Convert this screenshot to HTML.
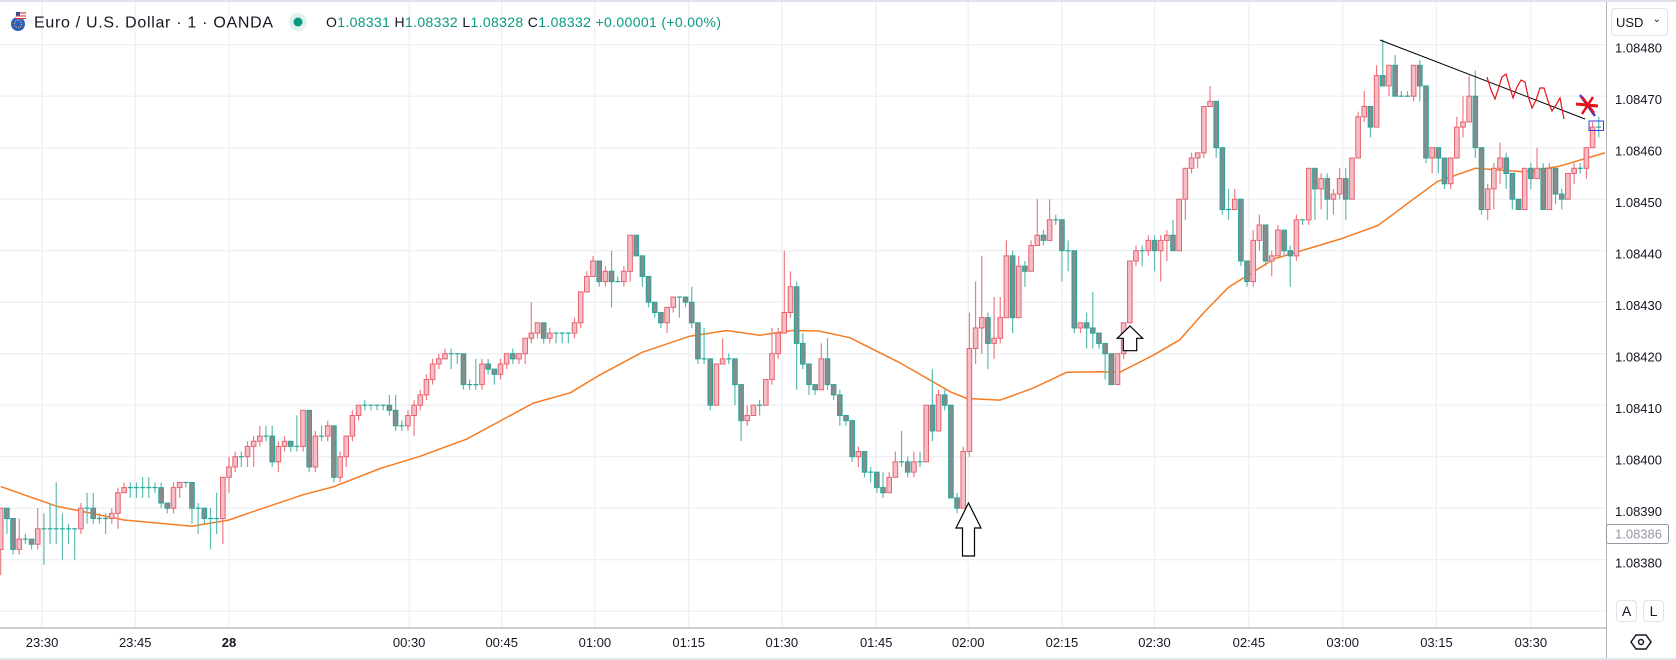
<!DOCTYPE html>
<html><head><meta charset="utf-8"><style>
html,body{margin:0;padding:0;background:#fff;}
body{width:1676px;height:660px;overflow:hidden;position:relative;font-family:"Liberation Sans",sans-serif;}
svg{position:absolute;left:0;top:0;}
.btn{position:absolute;border:1px solid #e0e3eb;border-radius:4px;background:#fff;color:#131722;font-size:14px;display:flex;align-items:center;justify-content:center;box-sizing:border-box;}
</style></head><body>
<svg id="chart" width="1676" height="660" xmlns="http://www.w3.org/2000/svg">
  <g id="grid"></g>
  <g id="ma"></g>
  <g id="candles"></g>
  <g id="drawings">
    <polygon points="968.5,503 981,528 974.5,528 974.5,556 962.5,556 962.5,528 956,528" fill="#fff" stroke="#000" stroke-width="1.2"/>
    <polygon points="1130,326 1142.7,338.3 1136.7,338.3 1136.7,350.7 1123.3,350.7 1123.3,338.3 1117.3,338.3" fill="#fff" stroke="#000" stroke-width="1.2"/>
    <line x1="1380" y1="40" x2="1585" y2="119" stroke="#000" stroke-width="1"/>
    <polyline fill="none" stroke="#e8101a" stroke-width="1.2" points="1487,77 1491,90 1495,99 1498,90 1502,77 1506,74 1510,88 1513,98 1517,87 1521,80 1525,82 1528,96 1532,108 1536,100 1540,88 1544,88 1548,101 1552,111 1556,105 1560,98 1564,119"/>
    <g>
      <line x1="1580" y1="95" x2="1595" y2="116" stroke="#4040d0" stroke-width="2.5"/>
      <line x1="1576" y1="104" x2="1598" y2="106" stroke="#e8101a" stroke-width="3"/>
      <line x1="1582" y1="97" x2="1594" y2="113" stroke="#e8101a" stroke-width="2.5"/>
      <line x1="1593" y1="97" x2="1582" y2="114" stroke="#e8101a" stroke-width="2.5"/>
    </g>
    <rect x="1589" y="121" width="14.5" height="9.5" fill="none" stroke="#3b3bdb" stroke-width="1"/>
  </g>
  <g id="axes">
    <line x1="1606.5" y1="0" x2="1606.5" y2="660" stroke="#b2b5be" stroke-width="1"/>
    <line x1="0" y1="628" x2="1606" y2="628" stroke="#b2b5be" stroke-width="1.2"/>
    <line x1="0" y1="1" x2="1676" y2="1" stroke="#e0e3eb" stroke-width="2"/>
    <line x1="0" y1="659" x2="1676" y2="659" stroke="#e0e3eb" stroke-width="2"/>
  </g>
  <g id="ylabels"></g>
  <g id="xlabels"></g>
  <g>
    <rect x="1606.5" y="524.5" width="62" height="19" fill="#fff" stroke="#9598a1" stroke-width="1" rx="2"/>
    <text x="1615" y="538.5" font-size="13" fill="#9598a1" font-family="Liberation Sans, sans-serif">1.08386</text>
  </g>
  <g>
    <g>
      <circle cx="18" cy="24" r="7" fill="#2d5fb8"/>
      <circle cx="18" cy="24" r="3.5" fill="none" stroke="#f2c94c" stroke-width="1" stroke-dasharray="1 1.2"/>
      <rect x="16" y="12" width="10" height="7" fill="#fff" stroke="#ccc" stroke-width="0.5"/>
      <rect x="16" y="12" width="4" height="3.5" fill="#2d4fa0"/>
      <line x1="20" y1="13" x2="26" y2="13" stroke="#e03131" stroke-width="1"/>
      <line x1="16" y1="16" x2="26" y2="16" stroke="#e03131" stroke-width="1"/>
      <line x1="16" y1="18.5" x2="26" y2="18.5" stroke="#e03131" stroke-width="1"/>
    </g>
    <text x="34" y="27.5" font-size="16" letter-spacing="0.7" fill="#131722" font-family="Liberation Sans, sans-serif">Euro / U.S. Dollar · 1 · OANDA</text>
    <circle cx="298" cy="22" r="9" fill="#dff3ee"/>
    <circle cx="298" cy="22" r="4.5" fill="#089981"/>
    <text x="326" y="27" font-size="14" letter-spacing="0.35" font-family="Liberation Sans, sans-serif" fill="#089981"><tspan fill="#131722">O</tspan>1.08331 <tspan fill="#131722">H</tspan>1.08332 <tspan fill="#131722">L</tspan>1.08328 <tspan fill="#131722">C</tspan>1.08332 +0.00001 (+0.00%)</text>
  </g>
  <g>
    <path d="M1631,642 L1636,635 L1646,635 L1651,642 L1646,649 L1636,649 Z" fill="none" stroke="#131722" stroke-width="1.5"/>
    <circle cx="1641" cy="642" r="2.5" fill="none" stroke="#131722" stroke-width="1.5"/>
  </g>
</svg>
<div class="btn" style="left:1611px;top:8px;width:57px;height:28px;justify-content:flex-start;padding-left:4px;font-size:13px;">USD<span style="position:absolute;right:6px;top:5px;font-size:10px;">&#8964;</span></div>
<div class="btn" style="left:1616px;top:600px;width:21px;height:22px;">A</div>
<div class="btn" style="left:1643px;top:600px;width:21px;height:22px;">L</div>
<script>
// Prices in units of 0.00001 above 1.08000 (e.g. 390 = 1.08390). Bar index 0 = 00:00.
const firstIndex = -37;
const firstOpen = 382;
const closes = [390,388,382,384,384,383,386,386,386,386,386,386,386,390,390,388,388,388,389,393,394,394,394,394,394,394,391,390,394,395,395,390,390,388,388,388,396,
398,400,400,402,403,404,404,399,402,403,402,402,409,398,404,404,406,396,400,404,408,410,410,410,410,410,409,406,406,408,410,412,415,418,419,420,420,420,414,414,414,418,417,416,418,420,419,420,423,424,426,423,424,424,424,424,426,432,435,438,434,436,434,434,436,443,439,435,430,428,426,429,431,431,430,426,419,419,410,418,419,419,414,407,408,410,410,415,420,424,428,433,422,418,414,413,419,414,412,408,407,400,401,397,397,394,393,396,399,399,397,399,399,410,405,412,410,392,390,401,421,425,427,422,423,427,439,427,437,436,441,443,442,446,446,440,440,425,426,425,424,422,420,414,420,426,438,440,440,442,440,442,443,440,450,456,458,459,468,469,460,448,448,450,438,434,442,445,438,439,444,440,439,446,446,456,452,454,450,451,454,450,458,466,468,464,474,472,476,470,470,470,476,472,458,460,458,453,458,464,465,470,460,448,452,456,458,455,450,448,456,454,456,448,456,451,450,455,456,456,460,464,464];
const highs = [390,390,388,388,385,384,390,389,391,395,389,387,386,391,393,393,389,389,390,394,395,395,395,396,396,395,395,391,395,395,395,395,391,390,390,393,396,
400,401,401,403,404,406,406,406,403,404,403,408,409,409,405,406,407,406,401,404,409,410,411,410,410,410,412,412,407,409,411,413,416,419,420,421,421,420,420,415,419,419,419,417,419,420,421,420,423,430,426,426,425,424,424,424,427,432,436,439,438,437,440,435,437,443,443,439,435,430,428,429,431,431,431,433,426,425,419,418,423,420,419,414,410,410,411,415,425,425,440,436,434,424,418,414,422,423,414,413,408,407,402,401,398,397,397,397,401,405,400,401,401,410,417,413,413,410,393,402,428,434,439,428,431,431,442,440,439,438,442,450,444,450,447,446,442,440,426,428,432,424,422,420,420,426,438,441,441,443,443,443,444,446,450,456,459,459,468,472,469,460,452,452,450,438,444,447,445,440,445,444,441,447,446,456,456,455,455,452,456,456,458,467,471,468,476,481,476,478,471,471,476,477,472,460,460,458,458,466,470,474,475,460,453,457,461,459,455,450,456,457,460,457,457,456,452,455,457,457,460,465,466];
const lows = [377,385,381,381,383,382,382,379,383,383,380,383,380,385,387,387,387,385,387,386,393,392,392,392,392,393,390,389,389,392,394,387,385,387,382,385,383,
393,397,398,398,398,402,403,398,397,401,401,401,401,397,397,403,403,395,395,398,403,407,409,409,409,409,408,405,405,405,404,409,411,414,417,419,417,418,413,413,413,413,416,414,415,417,418,418,418,422,423,422,422,422,422,422,423,425,432,435,433,433,429,434,433,434,439,433,429,427,425,424,428,427,429,425,418,418,409,410,418,418,410,403,406,408,408,410,414,419,424,427,413,417,412,412,413,413,411,406,406,399,398,396,395,393,392,393,397,398,396,396,398,399,403,405,409,392,389,390,400,418,420,417,419,422,427,424,427,433,436,441,441,442,445,434,436,424,424,421,421,421,415,414,414,419,426,437,437,439,436,434,438,440,440,446,455,456,458,468,458,447,446,448,437,433,433,440,437,435,439,439,433,438,445,445,446,448,446,447,450,446,450,458,465,462,464,472,470,470,470,470,469,469,457,455,455,452,452,459,462,469,458,447,446,448,453,452,448,448,448,452,454,448,448,449,448,450,453,455,454,461,462];
const maIdx = [-37,-28,-17,-6,0,6,12,17,24.5,31,38.5,49.3,55.3,60,67,74.7,80.7,86,91.4,95.6,100.6,108.8,116.9,119.6,125,130.3,135.8,141.2,144.4,149.8,154.1,158,162,169.4,180.2,186.2,195.8,202,210.2,215.6,223];
const maVal = [394.2,390.4,387.7,386.5,387.7,390.2,392.6,394.2,397.7,400.1,403.4,410.4,412.4,415.8,420.3,423.4,424.5,423.6,424.5,424.4,423.1,418.2,412.6,411.3,411,413.3,416.4,416.5,416.4,419.7,422.7,428,432.9,438.4,442.3,444.9,453.4,456,455.3,456.4,459];
const priceTicks = [480,470,460,450,440,430,420,410,400,390,380];
const gridPrices = [480,470,460,450,440,430,420,410,400,390,380,370];
const timeLabels = ["23:30","23:45","28","00:30","00:45","01:00","01:15","01:30","01:45","02:00","02:15","02:30","02:45","03:00","03:15","03:30"];
const timeIdx = [-30.3,-15.2,0,29.2,44.2,59.3,74.5,89.6,104.9,119.8,135,150,165.3,180.5,195.7,211];

const NS="http://www.w3.org/2000/svg";
const X0=229, BAR=6.17, Y480=44.7, PX=5.15;
function xScale(i){return X0+i*BAR;}
function yScale(v){return Y480+(480-v)*PX;}
function mk(tag,attrs,parent){const e=document.createElementNS(NS,tag);for(const k in attrs)e.setAttribute(k,attrs[k]);parent.appendChild(e);return e;}

const grid=document.getElementById('grid');
gridPrices.forEach(p=>{const y=yScale(p);
  const l=mk('line',{x1:0,x2:1606,y1:y,y2:y,stroke:'#edf0f4','stroke-width':1.3},grid);
  
  });
timeIdx.forEach(t=>{const x=xScale(t);
  const l=mk('line',{x1:x,x2:x,y1:0,y2:628,stroke:'#edf0f4','stroke-width':1.3},grid);
  
  });

const yl=document.getElementById('ylabels');
priceTicks.forEach(p=>{const t=mk('text',{x:1615,y:yScale(p)+8,'font-size':13,fill:'#131722','font-family':'Liberation Sans, sans-serif'},yl);
  t.textContent=(1.08+p/100000).toFixed(5);
  
  });
const xl=document.getElementById('xlabels');
timeLabels.forEach((s,k)=>{const t=mk('text',{x:xScale(timeIdx[k]),y:647,'font-size':13,fill:'#131722','text-anchor':'middle','font-family':'Liberation Sans, sans-serif','font-weight':s==='28'?'bold':'normal'},xl);
  t.textContent=s;
  
  });

const ma=document.getElementById('ma');
const pts=maIdx.map((t,k)=>xScale(t).toFixed(1)+','+yScale(maVal[k]).toFixed(1)).join(' ');
const pl=mk('polyline',{points:pts,fill:'none',stroke:'#f57c21','stroke-width':1.5,'stroke-linejoin':'round'},ma);



const cg=document.getElementById('candles');
closes.forEach((c,k)=>{
  const o = k===0?firstOpen:closes[k-1];
  const h=highs[k], l=lows[k];
  const x=xScale(firstIndex+k);
  const g=mk('g',{},cg);
  
  
  let wickCol, fill, stroke;
  if(c>o){wickCol='#ee7c86';fill='#f8bcc7';stroke='#e5636e';}
  else if(c<o){wickCol='#5cbcb1';fill='#868b8c';stroke='#26a69a';}
  else {wickCol='#5cbcb1';fill='#26a69a';stroke='#26a69a';}
  mk('line',{x1:x,x2:x,y1:yScale(h),y2:yScale(l),stroke:wickCol,'stroke-width':1.2},g);
  const top=yScale(Math.max(o,c)), bot=yScale(Math.min(o,c));
  if(c===o){mk('line',{x1:x-2.5,x2:x+2.5,y1:top,y2:top,stroke:stroke,'stroke-width':1.2},g);}
  else mk('rect',{x:x-2.3,y:top,width:4.6,height:Math.max(1,bot-top),fill:fill,stroke:stroke,'stroke-width':1},g);
});
</script>
</body></html>
